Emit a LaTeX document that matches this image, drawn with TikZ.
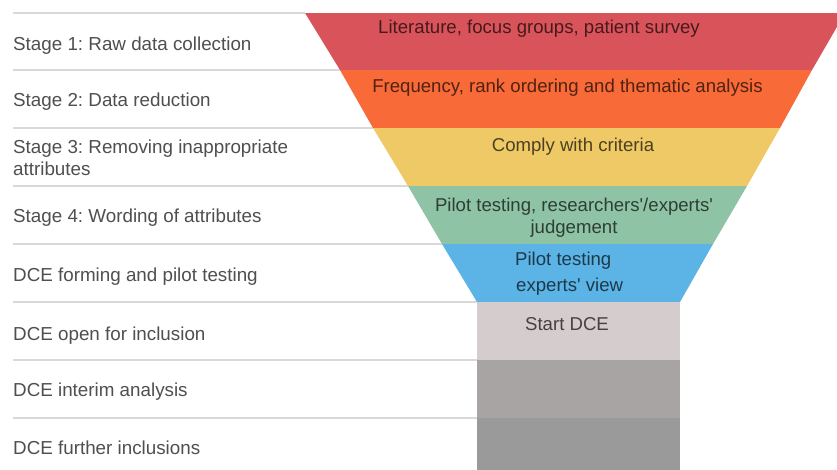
\documentclass[tikz,border=0pt]{standalone}
\usepackage{fontspec}
\setmainfont{Liberation Sans}
\frenchspacing
\definecolor{cred}{HTML}{D9535A}
\definecolor{corange}{HTML}{F86A37}
\definecolor{cyellow}{HTML}{EEC966}
\definecolor{cgreen}{HTML}{8EC3A5}
\definecolor{cblue}{HTML}{5BB4E5}
\definecolor{cgray1}{HTML}{D4CCCD}
\definecolor{cgray2}{HTML}{A8A4A4}
\definecolor{cgray3}{HTML}{9A9A9A}
\definecolor{rule}{HTML}{D9D9D9}
\definecolor{lbl}{HTML}{4F4F4F}
\tikzset{
  lab/.style={anchor=base west, inner sep=0pt, text=lbl, font=\fontsize{18.8}{22}\selectfont},
  ftxt/.style={anchor=base, inner sep=0pt, text=black, text opacity=0.68, font=\fontsize{18.6}{22}\selectfont},
  sep/.style={draw=rule, line width=1.4pt},
}
\begin{document}
\begin{tikzpicture}[x=1pt,y=-1pt]
\useasboundingbox (0,0) rectangle (837,469);
\clip (0,0) rectangle (837,469);
\fill[white] (0,0) rectangle (837,469);
% separator lines
\foreach \yy/\xe in {13/305,70/340,128/373,186/408,244/442,302/477,360/477,418/477}
  \draw[sep] (13,\yy) -- (\xe,\yy);
% funnel bands
\fill[cred]    (305,13) -- (845,13) -- (812,70) -- (340,70) -- cycle;
\fill[corange] (340,70) -- (812,70) -- (780,128) -- (373,128) -- cycle;
\fill[cyellow] (373,128) -- (780,128) -- (747,186) -- (408,186) -- cycle;
\fill[cgreen]  (408,186) -- (747,186) -- (713,244) -- (442,244) -- cycle;
\fill[cblue]   (442,244) -- (713,244) -- (680,302) -- (477,302) -- cycle;
\fill[cgray1]  (477,302) rectangle (680,360);
\fill[cgray2]  (477,360) rectangle (680,418);
\fill[cgray3]  (477,418) rectangle (680,475);
% left labels
\node[lab] (s1) at (13,50) {Stage 1: Raw data collection};
\node[lab] (s2) at (13,106.5) {Stage 2: Data reduction};
\node[lab] (s3a) at (13,153.5) {Stage 3: Removing inappropriate};
\node[lab] (s3b) at (13,175) {attributes};
\node[lab] (s4) at (13,222.5) {Stage 4: Wording of attributes};
\node[lab] (s5) at (13,281.5) {DCE forming and pilot testing};
\node[lab] (s6) at (13,340) {DCE open for inclusion};
\node[lab] (s7) at (13,396.5) {DCE interim analysis};
\node[lab] (s8) at (13,454) {DCE further inclusions};
% funnel texts
\node[ftxt] (f1) at (539,33.5) {Literature, focus groups, patient survey};
\node[ftxt] (f2) at (567.5,92.5) {Frequency, rank ordering and thematic analysis};
\node[ftxt] (f3) at (573,151.5) {Comply with criteria};
\node[ftxt] (f4a) at (574,211.5) {Pilot testing, researchers\textquotesingle/experts\textquotesingle};
\node[ftxt] (f4b) at (574,233) {judgement};
\node[ftxt, anchor=base west] (f5a) at (515,265) {Pilot testing};
\node[ftxt, anchor=base west] (f5b) at (516,291.5) {experts\textquotesingle{} view};
\node[ftxt] (f6) at (567,330) {Start DCE};
\end{tikzpicture}
\end{document}
